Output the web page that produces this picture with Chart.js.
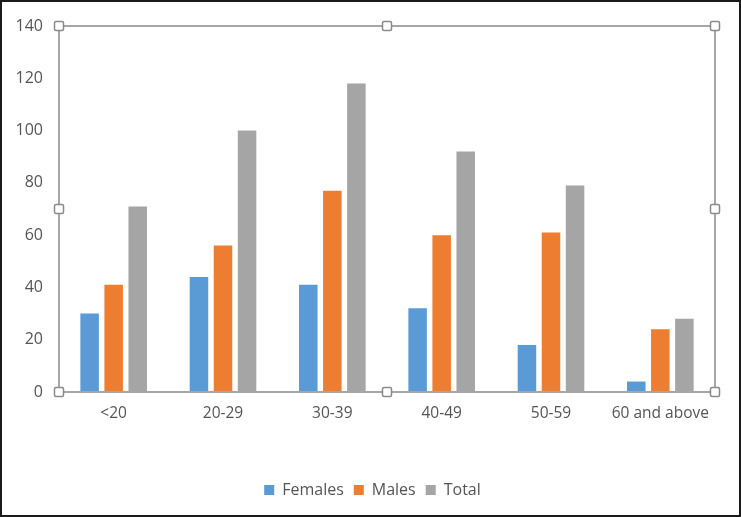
<!DOCTYPE html>
<html>
<head>
<meta charset="utf-8">
<script src="https://cdn.jsdelivr.net/npm/chart.js@4.4.0/dist/chart.umd.min.js"></script>
<style>
html,body{margin:0;padding:0;background:#fff;}
#wrap{width:741px;height:517px;position:relative;}
</style>
</head>
<body>
<div id="wrap"><canvas id="c" width="741" height="517"></canvas></div>
<script>
const categories = ['<20', '20-29', '30-39', '40-49', '50-59', '60 and above'];
const females = [30, 44, 41, 32, 18, 4];
const males = [41, 56, 77, 60, 61, 24];
const totals = [71, 100, 118, 92, 79, 28];
const yTicks = [0, 20, 40, 60, 80, 100, 120, 140];

const framePlugin = {
  id: 'frame',
  afterLayout(chart) {
    if (chart.legend) { chart.legend.left += 15; chart.legend.right += 15; }
  },
  afterDraw(chart) {
    const ctx = chart.ctx;
    const a = chart.chartArea;
    ctx.save();
    ctx.strokeStyle = '#a6a6a6';
    ctx.lineWidth = 2;
    ctx.strokeRect(a.left, a.top, a.right - a.left, a.bottom - a.top);
    const mx = (a.left + a.right) / 2, my = (a.top + a.bottom) / 2;
    const pts = [[a.left,a.top],[mx,a.top],[a.right,a.top],[a.left,my],[a.right,my],[a.left,a.bottom],[mx,a.bottom],[a.right,a.bottom]];
    ctx.lineWidth = 1.5;
    ctx.strokeStyle = '#8a8a8a';
    ctx.fillStyle = '#ffffff';
    pts.forEach(([x,y]) => {
      ctx.beginPath();
      if (ctx.roundRect) ctx.roundRect(x-4.5, y-4.5, 9, 9, 1.5); else ctx.rect(x-4.5, y-4.5, 9, 9);
      ctx.fill(); ctx.stroke();
    });
    ctx.strokeStyle = '#1a1a1a';
    ctx.lineWidth = 2;
    ctx.strokeRect(1, 1, chart.width - 2, chart.height - 2);
    ctx.restore();
  }
};

new Chart(document.getElementById('c'), {
  type: 'bar',
  data: {
    labels: categories,
    datasets: [
      {label: 'Females', data: females, backgroundColor: '#5b9bd5'},
      {label: 'Males', data: males, backgroundColor: '#ed7d31'},
      {label: 'Total', data: totals, backgroundColor: '#a5a5a5'}
    ]
  },
  options: {
    responsive: false,
    animation: false,
    devicePixelRatio: 1,
    layout: {padding: {top: 26, right: 26, bottom: 9, left: 0}},
    datasets: {bar: {categoryPercentage: 0.66, barPercentage: 0.77}},
    scales: {
      x: {
        grid: {display: false, drawTicks: false},
        border: {display: false},
        ticks: {color: '#555555', font: {family: 'Open Sans', size: 15.5}, padding: 12, maxRotation: 0},
        afterFit(s) { s.height = 80; }
      },
      y: {
        min: 0, max: 140,
        afterBuildTicks(s) { s.ticks = yTicks.map(v => ({value: v})); },
        grid: {display: false, drawTicks: false},
        border: {display: false},
        ticks: {color: '#555555', font: {family: 'Open Sans', size: 16}, padding: 16},
        afterFit(s) { s.width = 59; }
      }
    },
    plugins: {
      legend: {
        position: 'bottom',
        labels: {boxWidth: 10, boxHeight: 10, color: '#555555', font: {family: 'Open Sans', size: 16}, padding: 10}
      },
      tooltip: {enabled: false}
    }
  },
  plugins: [framePlugin]
});
</script>
</body>
</html>
